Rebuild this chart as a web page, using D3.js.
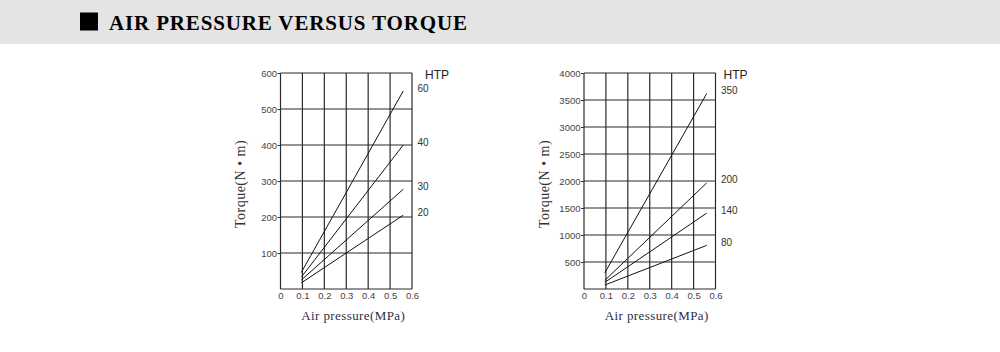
<!DOCTYPE html>
<html>
<head>
<meta charset="utf-8">
<script src="https://cdn.jsdelivr.net/npm/d3@7"></script>
<style>
  body { margin: 0; background: #fff; }
  svg { display: block; }
</style>
</head>
<body>
<div id="chart"></div>
<script>
// chart data
var pressureEnds = [0.095, 0.56];           // x where each line starts / ends (MPa)
var xTicks = [0, 0.1, 0.2, 0.3, 0.4, 0.5, 0.6];

var leftNames = ["60", "40", "30", "20"];
var leftStart = [46, 33, 25, 17];
var leftEnd = [550, 400, 277, 205];
var leftTicks = [100, 200, 300, 400, 500, 600];

var rightNames = ["350", "200", "140", "80"];
var rightStart = [300, 160, 123, 74];
var rightEnd = [3620, 1965, 1405, 808];
var rightTicks = [500, 1000, 1500, 2000, 2500, 3000, 3500, 4000];

var width = 1000, height = 352;

var svg = d3.select("#chart")
  .append("svg")
  .attr("width", width)
  .attr("height", height);

svg.append("rect").attr("width", width).attr("height", height).attr("fill", "#fff");

// header band
svg.append("rect")
  .attr("x", 0).attr("y", 0)
  .attr("width", width).attr("height", 44)
  .attr("fill", "#e4e4e4");
svg.append("rect")
  .attr("x", 80).attr("y", 12.5)
  .attr("width", 18).attr("height", 18)
  .attr("fill", "#000");
svg.append("text")
  .attr("x", 109).attr("y", 30)
  .attr("font-family", "'Liberation Serif', 'Times New Roman', serif")
  .attr("font-weight", "bold")
  .attr("font-size", 21)
  .attr("letter-spacing", 0.85)
  .attr("fill", "#000")
  .text("AIR PRESSURE VERSUS TORQUE");

function drawChart(left, yMax, yTicks, names, starts, ends, htpOffset) {
  var top = 73, bottom = 289, w = 131.5;
  var g = svg.append("g").attr("transform", "translate(" + left + "," + top + ")");
  var h = bottom - top;

  var x = d3.scaleLinear().domain([0, 0.6]).range([0, w]);
  var y = d3.scaleLinear().domain([0, yMax]).range([h, 0]);

  // grid
  g.append("g").selectAll("line")
    .data(xTicks)
    .enter().append("line")
    .attr("x1", function(d) { return x(d); })
    .attr("x2", function(d) { return x(d); })
    .attr("y1", 0).attr("y2", h)
    .attr("stroke", "#2a2a2a").attr("stroke-width", 1.2);
  g.append("g").selectAll("line")
    .data([0].concat(yTicks))
    .enter().append("line")
    .attr("x1", 0).attr("x2", w)
    .attr("y1", function(d) { return y(d); })
    .attr("y2", function(d) { return y(d); })
    .attr("stroke", "#2a2a2a").attr("stroke-width", 1.2);

  // y axis
  var ya = g.append("g")
    .call(d3.axisLeft(y).tickValues(yTicks).tickSize(3).tickSizeOuter(0).tickPadding(0.5)
      .tickFormat(d3.format("d")));
  ya.select(".domain").remove();
  ya.selectAll("line").attr("stroke", "#333");
  ya.selectAll("text")
    .attr("font-family", "'Liberation Sans', Arial, sans-serif")
    .attr("font-size", 9.5)
    .attr("fill", "#444");

  // x axis labels
  var xa = g.append("g")
    .attr("transform", "translate(0," + h + ")")
    .call(d3.axisBottom(x).tickValues(xTicks).tickSize(0).tickPadding(3)
      .tickFormat(function(d) { return d === 0 ? "0" : d3.format(".1f")(d); }));
  xa.select(".domain").remove();
  xa.selectAll("text")
    .attr("font-family", "'Liberation Sans', Arial, sans-serif")
    .attr("font-size", 9.5)
    .attr("fill", "#444");

  // torque lines
  var line = d3.line()
    .x(function(d) { return x(d[0]); })
    .y(function(d) { return y(d[1]); });
  names.forEach(function(n, i) {
    g.append("path")
      .attr("d", line([[pressureEnds[0], starts[i]], [pressureEnds[1], ends[i]]]))
      .attr("fill", "none")
      .attr("stroke", "#111")
      .attr("stroke-width", 1);
    g.append("text")
      .attr("x", w + 5.5)
      .attr("y", y(ends[i]) - 3)
      .attr("dy", "0.35em")
      .attr("font-family", "'Liberation Sans', Arial, sans-serif")
      .attr("font-size", 10)
      .attr("fill", "#333")
      .text(n);
  });

  g.append("text")
    .attr("x", w + htpOffset)
    .attr("y", 6)
    .attr("font-family", "'Liberation Sans', Arial, sans-serif")
    .attr("font-size", 12)
    .attr("fill", "#222")
    .text("HTP");

  // axis titles
  g.append("text")
    .attr("transform", "translate(" + (-40) + "," + (h / 2 + 3) + ") rotate(-90)")
    .attr("text-anchor", "middle")
    .attr("dy", "0.35em")
    .attr("font-family", "'Liberation Serif', 'Times New Roman', serif")
    .attr("font-size", 14)
    .attr("letter-spacing", 0.5)
    .attr("fill", "#333")
    .text("Torque(N \u2022 m)");

  g.append("text")
    .attr("x", w / 2 + 7)
    .attr("y", h + 31)
    .attr("text-anchor", "middle")
    .attr("font-family", "'Liberation Serif', 'Times New Roman', serif")
    .attr("font-size", 13)
    .attr("letter-spacing", 0.4)
    .attr("fill", "#2e2e48")
    .text("Air pressure(MPa)");
}

drawChart(280.5, 600, leftTicks, leftNames, leftStart, leftEnd, 13);
drawChart(584, 4000, rightTicks, rightNames, rightStart, rightEnd, 8);
</script>
</body>
</html>
